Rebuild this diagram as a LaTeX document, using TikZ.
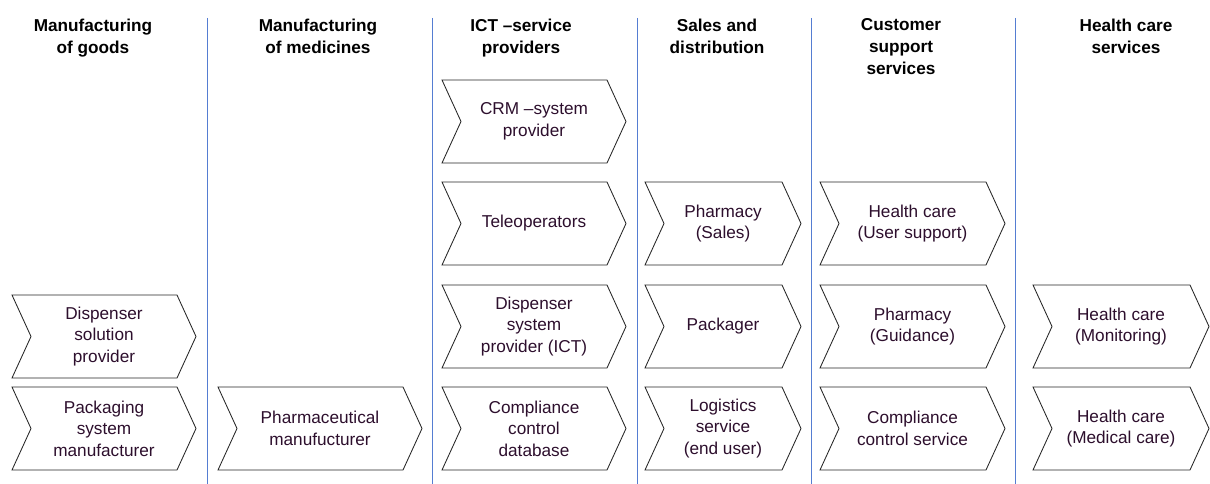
\documentclass[tikz,border=0pt]{standalone}
\usepackage{fontspec}
\setmainfont{Liberation Sans}
\definecolor{textc}{RGB}{45,15,45}
\definecolor{sepc}{RGB}{85,125,210}
\tikzset{
  chevline/.style={draw=black!85, line width=0.85pt, fill=white},
  chevtext/.style={align=center, inner sep=0pt, text=textc, font=\fontsize{17.2}{21.5}\selectfont},
  header/.style={align=center, inner sep=0pt, anchor=north, text=black, font=\bfseries\fontsize{17.2}{22}\selectfont},
  sepline/.style={draw=sepc, line width=1.5pt}
}
% name, x, ytop, width, height, text
\newcommand{\chev}[6]{%
  \draw[chevline] (#2,#3) -- ++(#4-19,0) -- ++(19,#5/2) -- ++(-19,#5/2) -- ++(-#4+19,0) -- ++(19,-#5/2) -- cycle;
  \node[chevtext] (#1) at (#2+#4/2,#3+#5/2) {#6};
}
\begin{document}
\begin{tikzpicture}[x=1pt,y=-1pt]
\useasboundingbox (0,0) rectangle (1210,484);
% separators
\foreach \xx/\nm in {207.5/s1,432.5/s2,637.5/s3,811.5/s4,1015.5/s5}{
  \coordinate (\nm a) at (\xx,18);
  \coordinate (\nm b) at (\xx,484);
  \draw[sepline] (\nm a) -- (\nm b);
}
% headers
\node[header] (h1) at (93,18.5) {Manufacturing\\of goods};
\node[header] (h2) at (318,18.5) {Manufacturing\\of medicines};
\node[header] (h3) at (521,18.5) {ICT --service\\providers};
\node[header] (h4) at (717,18.5) {Sales and\\distribution};
\node[header] (h5) at (901,18.5) {Customer\\support\\services};
\node[header] (h6) at (1126,18.5) {Health care\\services};
% column 1
\chev{dsp}{12}{295}{184}{83}{Dispenser\\solution\\provider}
\chev{psm}{12}{387}{184}{83}{Packaging\\system\\manufacturer}
% column 2
\chev{phm}{218}{387}{204}{83}{Pharmaceutical\\manufucturer}
% column 3
\chev{crm}{442}{80}{184}{83}{CRM --system\\provider}
\chev{tel}{442}{182}{184}{83}{Teleoperators}
\chev{dsys}{442}{285}{184}{83}{Dispenser\\system\\provider (ICT)}
\chev{ccd}{442}{387}{184}{83}{Compliance\\control\\database}
% column 4
\chev{phs}{645}{182}{156}{83}{Pharmacy\\(Sales)}
\chev{pkg}{645}{285}{156}{83}{Packager}
\chev{log}{645}{387}{156}{83}{Logistics\\service\\(end user)}
% column 5
\chev{hus}{820}{182}{185}{83}{Health care\\(User support)}
\chev{phg}{820}{285}{185}{83}{Pharmacy\\(Guidance)}
\chev{ccs}{820}{387}{185}{83}{Compliance\\control service}
% column 6
\chev{hmo}{1033}{285}{176}{83}{Health care\\(Monitoring)}
\chev{hmc}{1033}{387}{176}{83}{Health care\\(Medical care)}
\end{tikzpicture}
\end{document}
